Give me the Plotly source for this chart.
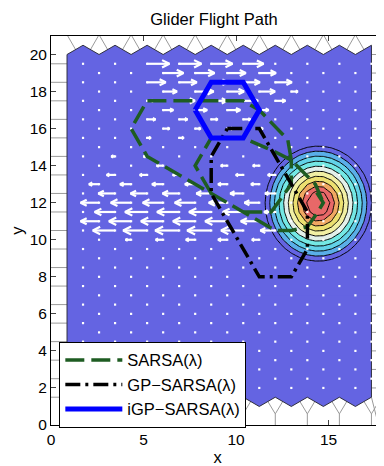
import numpy as np
import plotly.graph_objects as go

# ---------------- data ----------------
# hexagonal state lattice (columns sqrt(3)/2 apart)
col_x = [0.866, 1.732, 2.598, 3.464, 4.330, 5.196, 6.062, 6.928, 7.794, 8.660,
         9.526, 10.392, 11.258, 12.124, 12.990, 13.856, 14.722, 15.588, 16.454, 17.321]
even_rows = [2, 19]        # integer rows (min, max) for even columns
odd_rows = [2.5, 19.5]     # half-integer rows for odd columns

# thermal (value surface): centre, peak, fall-off per unit, y stretch
thermal_center = [14.45, 11.95]
thermal_peak = 1.2
thermal_falloff = 0.4
thermal_ystretch = 1.08
contour_levels = [0.05, 0.95, 0.1]

# policy arrows (x, y, u)
arrow_x = [5.20, 6.93, 8.66, 10.39,
           6.06, 7.79, 9.53, 11.26,
           5.20, 6.93, 8.66, 10.39, 12.12,
           6.06, 7.79, 9.53, 11.26, 12.99,
           5.20, 6.93, 8.66, 10.39, 12.12,
           6.06, 7.79, 9.53, 11.26,
           5.20, 6.93, 8.66, 10.39,
           6.06, 7.79, 9.53, 11.26,
           5.20, 6.93, 8.66,
           3.46, 5.20,
           6.06, 9.53, 11.26,
           3.46, 5.20, 6.93, 10.39, 12.12,
           2.60, 4.33, 6.06, 7.79, 9.53, 11.26,
           3.46, 5.20, 6.93, 8.66, 10.39, 12.12,
           2.60, 4.33, 6.06, 7.79, 9.53, 11.26,
           3.46, 5.20, 6.93, 8.66, 10.39, 12.12,
           2.60, 4.33, 6.06, 7.79, 9.53, 11.26,
           3.46, 5.20, 6.93, 8.66, 10.39, 12.12,
           4.33, 6.06, 7.79, 9.53, 11.26]
arrow_y = [19.5] * 4 + [19.0] * 4 + [18.5] * 5 + [18.0] * 5 + [17.5] * 5 + [17.0] * 4 + \
          [16.5] * 4 + [16.0] * 4 + [15.5] * 3 + [14.5] * 2 + [14.0] * 3 + [13.5] * 5 + \
          [13.0] * 6 + [12.5] * 6 + [12.0] * 6 + [11.5] * 6 + [11.0] * 6 + [10.5] * 6 + [10.0] * 5
arrow_u = [1.2, 1.2, 1.15, 1.1,
           1.1, 1.05, 1.0, 0.9,
           1.0, 0.95, 0.9, 0.9, 0.9,
           0.75, 1.0, 0.9, 0.85, 0.35,
           0.35, 0.85, 0.85, 0.8, 0.55,
           0.55, 0.65, 0.7, 0.5,
           0.45, 0.45, 0.35, 0.4,
           0.35, 0.3, 0.3, 0.2,
           0.2, 0.25, 0.2,
           -0.2, -0.2,
           -0.35, -0.35, -0.35,
           -0.45, -0.4, -0.35, -0.4, -0.4,
           -0.55, -0.6, -0.6, -0.55, -0.5, -0.45,
           -0.9, -0.9, -0.9, -0.8, -0.7, -0.55,
           -1.0, -1.1, -1.1, -1.1, -1.0, -0.8,
           -1.1, -1.2, -1.2, -1.2, -1.1, -0.6,
           -1.0, -1.2, -1.2, -1.2, -1.2, -1.0,
           -1.2, -1.3, -1.3, -1.3, -1.2, -0.8,
           -0.3, -0.4, -0.5, -0.5, -0.4]

# flight paths
sarsa_x = [14.36, 14.72, 14.36, 13.86, 12.99, 12.12, 10.39, 8.66, 5.20, 4.33, 5.20, 10.39, 11.26, 12.80,
           12.99, 14.29, 14.72, None,
           12.99, 12.00, 10.39, 8.66, 7.79, 8.66, None,
           10.39, 11.90, 12.99, 12.99]
sarsa_y = [12.55, 12.0, 11.4, 10.7, 10.5, 10.5, 11.5, 12.5, 14.5, 16.0, 17.5, 17.5, 17.0, 15.4,
           14.3, 13.0, 12.0, None,
           14.3, 14.8, 15.5, 15.5, 14.0, 12.5, None,
           11.5, 11.5, 13.0, 14.3]
gp_x = [9.53, 11.26, 13.86, 13.86, 12.99, 11.26, 8.66, 8.66, 9.53]
gp_y = [16.0, 16.0, 11.5, 9.5, 8.0, 8.0, 12.5, 14.5, 16.0]
igp_x = [7.79, 8.66, 10.39, 11.26, 10.39, 8.66, 7.79]
igp_y = [17.0, 18.5, 18.5, 17.0, 15.5, 15.5, 17.0]

legend_names = ["SARSA(λ)", "GP\u2212SARSA(λ)", "iGP\u2212SARSA(λ)"]

BLUE_BG = "#6464E2"
GRAY = "#9a9a9a"


def to_path(xs, ys, close=False):
    parts, pen_up = [], True
    for x, y in zip(xs, ys):
        if x is None:
            pen_up = True
            continue
        parts.append(("M" if pen_up else "L") + f"{x:.4f},{y:.4f}")
        pen_up = False
    return " ".join(parts) + (" Z" if close else "")


fig = go.Figure()

# ---- gray cell edges outside the region ----
gx, gy = [], []
for j, x in enumerate(col_x):
    if j % 2 == 0:
        if j > 0:
            gx += [x - 0.75, x, None]
            gy += [21.07 - 0.75 * 1.732, 21.07, None]
        gx += [x, x + 0.75, None]
        gy += [21.07, 21.07 - 0.75 * 1.732, None]
    else:
        gx += [x - 0.6, x, x + 0.6, None, x, x, None]
        gy += [0.6 + 1.0, 0.6, 0.6 + 1.0, None, 0.6, 0.0, None]
for k in range(19):
    yy = odd_rows[1] - k
    gx += [0, col_x[0], None]
    gy += [yy, yy, None]
for k in range(19):
    yy = even_rows[1] + 1 - k
    gx += [col_x[-1], 18.0, None]
    gy += [yy, yy, None]
gx += [col_x[-1], 17.7, None]
gy += [1.5, 0.0, None]

# ---- blue hexagonal region outline ----
top_y = [even_rows[1] + 1 if j % 2 == 0 else odd_rows[1] + 1 for j in range(len(col_x))]
bot_y = [even_rows[0] - 1 if j % 2 == 0 else odd_rows[0] - 1 for j in range(len(col_x))]
px = list(col_x) + list(col_x)[::-1]
py = top_y + bot_y[::-1]

fig.add_shape(type="path", path=to_path(gx, gy), xref="x", yref="y", layer="below",
              line=dict(color=GRAY, width=1))
fig.add_shape(type="path", path=to_path(px, py, close=True), xref="x", yref="y", layer="below",
              fillcolor=BLUE_BG, line=dict(color="#303040", width=1))

# ---- thermal contour ----
cx = np.arange(10.392, 17.33, 0.433)
cy = np.arange(7.0, 17.01, 0.5)
XX, YY = np.meshgrid(cx, cy)
RR = np.sqrt((XX - thermal_center[0]) ** 2 + ((YY - thermal_center[1]) / thermal_ystretch) ** 2)
ZZ = thermal_peak - thermal_falloff * RR
cscale = [[0.0, BLUE_BG], [0.1, BLUE_BG], [0.2, "#5AAEE8"], [0.3, "#62D2E8"], [0.4, "#74E8E4"],
          [0.5, "#E4F0EA"], [0.6, "#F2F0A4"], [0.7, "#ECE070"], [0.8, "#F0A862"],
          [0.9, "#E86868"], [1.0, "#E86868"]]
fig.add_trace(go.Contour(x=cx, y=cy, z=ZZ, colorscale=cscale, showscale=False,
                         contours=dict(start=contour_levels[0], end=contour_levels[1],
                                       size=contour_levels[2], coloring="fill"),
                         line=dict(color="black", width=1, smoothing=0),
                         hoverinfo="skip", showlegend=False))

# ---- lattice dots ----
dx, dy = [], []
for j in range(1, len(col_x)):
    lo, hi = (even_rows if j % 2 == 0 else odd_rows)
    for yy in np.arange(lo, hi + 0.01, 1.0):
        dx.append(col_x[j])
        dy.append(yy)
fig.add_trace(go.Scatter(x=dx, y=dy, mode="markers",
                         marker=dict(color="white", size=2.2, symbol="square", line=dict(width=0)),
                         hoverinfo="skip", showlegend=False))

# ---- arrows ----
ax, ay = [], []
for x0, y0, u in zip(arrow_x, arrow_y, arrow_u):
    tip = x0 + u
    s = 1 if u > 0 else -1
    hl = max(0.12, 0.33 * abs(u))
    hw = hl * 0.5
    ax += [x0, tip, None, tip - s * hl, tip, tip - s * hl, None]
    ay += [y0, y0, None, y0 + hw, y0, y0 - hw, None]
fig.add_trace(go.Scatter(x=ax, y=ay, mode="lines", line=dict(color="white", width=2.2),
                         hoverinfo="skip", showlegend=False))

# ---- flight paths ----
fig.add_trace(go.Scatter(x=sarsa_x, y=sarsa_y, mode="lines", name=legend_names[0],
                         line=dict(color="#1E5C22", width=3.5, dash="19px,7px")))
fig.add_trace(go.Scatter(x=gp_x, y=gp_y, mode="lines", name=legend_names[1],
                         line=dict(color="black", width=3.5, dash="15px,5px,3px,5px")))
fig.add_trace(go.Scatter(x=igp_x, y=igp_y, mode="lines", name=legend_names[2],
                         line=dict(color="#0000FF", width=5)))

# page body has an 8px margin: figure is sized/offset to compensate
FONT = "Liberation Sans, Arial, Helvetica, sans-serif"
fig.update_layout(
    width=376, height=458,
    margin=dict(l=43, r=0, t=28, b=41),
    paper_bgcolor="white", plot_bgcolor="white",
    font=dict(family=FONT, size=15.5, color="black"),
    title=dict(text="Glider Flight Path", x=206 / 376, xref="container", xanchor="center",
               y=1 - 11 / 458, yanchor="middle", font=dict(size=16.5, color="black")),
    showlegend=True,
    legend=dict(x=0.025, y=0.214, xanchor="left", yanchor="top", bgcolor="white",
                bordercolor="black", borderwidth=1, font=dict(size=16.5),
                itemwidth=57, tracegroupgap=0),
    xaxis=dict(range=[0, 18], tickvals=[0, 5, 10, 15], ticks="inside", ticklen=5,
               showline=True, linecolor="black", linewidth=1, mirror="ticks",
               showgrid=False, zeroline=False,
               title=dict(text="x", font=dict(size=16.5), standoff=8)),
    yaxis=dict(range=[0, 21], tickvals=list(range(0, 21, 2)), ticks="inside", ticklen=5,
               showline=True, linecolor="black", linewidth=1, mirror=False,
               showgrid=False, zeroline=False,
               title=dict(text="y", font=dict(size=16.5), standoff=8)),
)
fig.write_html("out.html")
